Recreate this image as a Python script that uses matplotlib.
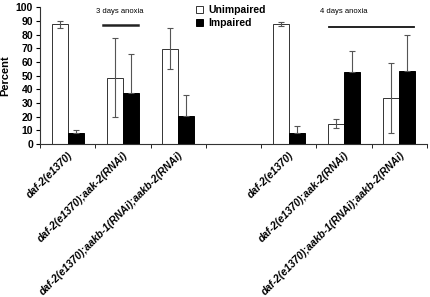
import matplotlib.pyplot as plt
import numpy as np

# data
labels = ['daf-2(e1370)', 'daf-2(e1370);aak-2(RNAi)',
          'daf-2(e1370);aakb-1(RNAi);aakb-2(RNAi)', '',
          'daf-2(e1370)', 'daf-2(e1370);aak-2(RNAi)',
          'daf-2(e1370);aakb-1(RNAi);aakb-2(RNAi)']
unimpaired = [87.5, 48.5, 69.5, np.nan, 87.5, 15, 33.5]
unimpaired_err = [2.5, 29, 15, np.nan, 1.5, 3, 25.5]
impaired = [8, 37.5, 20.5, np.nan, 8, 52.5, 53]
impaired_err = [2, 28.5, 15.5, np.nan, 5.5, 15.5, 27]
yticks = list(range(0, 101, 10))

plt.rcParams['font.family'] = ['Liberation Sans', 'DejaVu Sans']

fig = plt.figure(figsize=(4.3, 2.97), dpi=100)
ax = fig.add_axes([0.093, 0.515, 0.9, 0.461])

x = np.arange(len(labels))
w = 0.29
errkw = dict(ecolor='#555555', elinewidth=0.8, capsize=2, capthick=0.8)
ax.bar(x - w/2, unimpaired, w, yerr=unimpaired_err, color='white',
       edgecolor='#333333', linewidth=0.7, error_kw=errkw, label='Unimpaired')
# lower half of the black bars' whiskers is hidden inside the bar
imp_yerr = [np.zeros(len(impaired)), impaired_err]
ax.bar(x + w/2, impaired, w, yerr=imp_yerr, color='black',
       edgecolor='black', linewidth=0.7, error_kw=errkw, label='Impaired')

# anoxia annotations
ax.plot([0.64, 1.27], [86.9, 86.9], color='#222222', lw=1.8)
ax.text(0.95, 97, '3 days anoxia', ha='center', va='center', fontsize=5.5)
ax.plot([4.73, 6.26], [85.4, 85.4], color='#111111', lw=1.3)
ax.text(5.0, 96.5, '4 days anoxia', ha='center', va='center', fontsize=5.5)

ax.set_xlim(-0.5, len(labels) - 0.5)
ax.set_ylim(0, 100)
ax.set_yticks(yticks)
ax.set_yticklabels([str(t) for t in yticks], fontsize=7.5, fontweight='bold')
ax.set_ylabel('Percent', fontsize=8, fontweight='bold', labelpad=4)

ax.set_xticks(x)
ax.set_xticklabels(labels, rotation=45, ha='right', rotation_mode='anchor',
                   fontsize=7.5, fontweight='bold', style='italic')
ax.tick_params(axis='x', length=0, pad=4)
ax.set_xticks(np.arange(len(labels) + 1) - 0.5, minor=True)
ax.tick_params(axis='x', which='minor', length=3, direction='out')
ax.tick_params(axis='y', length=3, pad=2)

for s in ['top', 'right']:
    ax.spines[s].set_visible(False)
ax.spines['left'].set_color('#333333')
ax.spines['bottom'].set_color('#333333')

leg = ax.legend(loc='upper left', bbox_to_anchor=(0.38, 1.085), frameon=False,
                prop={'weight': 'bold', 'size': 7.5}, handlelength=0.6,
                handleheight=0.6, handletextpad=0.5, labelspacing=0.3)

fig.savefig('out.png', dpi=100)
